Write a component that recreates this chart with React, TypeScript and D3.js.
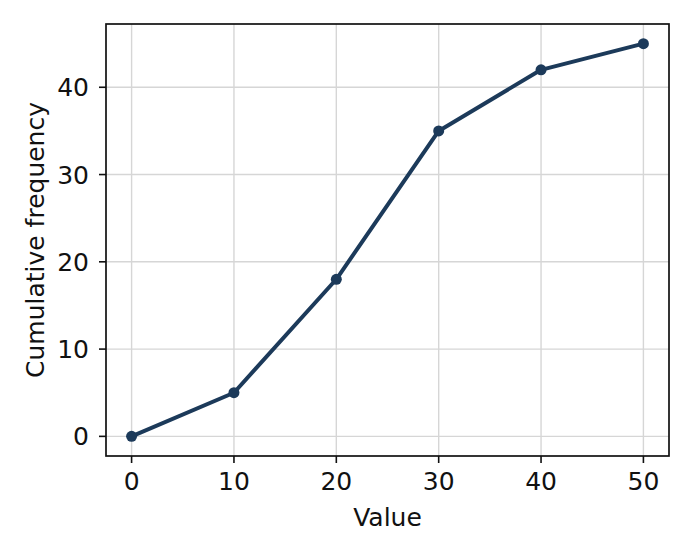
import * as d3 from "d3";

const values = [0, 10, 20, 30, 40, 50];
const cumFreq = [0, 5, 18, 35, 42, 45];
const xTicks = [0, 10, 20, 30, 40, 50];
const yTicks = [0, 10, 20, 30, 40];

const width = 693;
const height = 554;
const margin = { top: 24, right: 24, bottom: 98, left: 106 };
const lineColor = "#1c3a5a";
const font = "'DejaVu Sans', sans-serif";
const fs = 25;

export default function App() {
  const x = d3
    .scaleLinear()
    .domain([-2.5, 52.5])
    .range([margin.left, width - margin.right]);
  const y = d3
    .scaleLinear()
    .domain([-2.25, 47.25])
    .range([height - margin.bottom, margin.top]);

  const pts: [number, number][] = values.map((v, i) => [x(v), y(cumFreq[i])]);
  const path = d3.line()(pts) ?? "";

  const x0 = margin.left;
  const x1 = width - margin.right;
  const y0 = height - margin.bottom;
  const y1 = margin.top;

  return (
    <svg
      width={width}
      height={height}
      style={{ position: "absolute", left: 0, top: 0, background: "#fff" }}
      fontFamily={font}
    >
      {/* grid */}
      {xTicks.map((t) => (
        <line key={`gx-${t}`} x1={x(t)} x2={x(t)} y1={y1} y2={y0} stroke="#d6d6d6" strokeWidth={1.4} />
      ))}
      {yTicks.map((t) => (
        <line key={`gy-${t}`} x1={x0} x2={x1} y1={y(t)} y2={y(t)} stroke="#d6d6d6" strokeWidth={1.4} />
      ))}

      <path d={path} fill="none" stroke={lineColor} strokeWidth={4} strokeLinejoin="round" />
      {pts.map(([px, py], i) => (
        <circle key={`p-${i}`} cx={px} cy={py} r={5.5} fill={lineColor} />
      ))}

      {/* spines */}
      <rect x={x0} y={y1} width={x1 - x0} height={y0 - y1} fill="none" stroke="#111" strokeWidth={1.7} />

      {/* x ticks */}
      {xTicks.map((t) => (
        <g key={`xt-${t}`}>
          <line x1={x(t)} x2={x(t)} y1={y0} y2={y0 + 7} stroke="#111" strokeWidth={1.6} />
          <text x={x(t)} y={y0 + 34} textAnchor="middle" fontSize={fs} fill="#111">
            {t}
          </text>
        </g>
      ))}
      {/* y ticks */}
      {yTicks.map((t) => (
        <g key={`yt-${t}`}>
          <line x1={x0 - 7} x2={x0} y1={y(t)} y2={y(t)} stroke="#111" strokeWidth={1.6} />
          <text x={x0 - 17} y={y(t)} dy="0.36em" textAnchor="end" fontSize={fs} fill="#111">
            {t}
          </text>
        </g>
      ))}

      <text x={(x0 + x1) / 2} y={y0 + 70} textAnchor="middle" fontSize={fs} fill="#111">
        Value
      </text>
      <text
        transform={`translate(${44},${(y0 + y1) / 2}) rotate(-90)`}
        textAnchor="middle"
        fontSize={fs}
        fill="#111"
      >
        Cumulative frequency
      </text>
    </svg>
  );
}
